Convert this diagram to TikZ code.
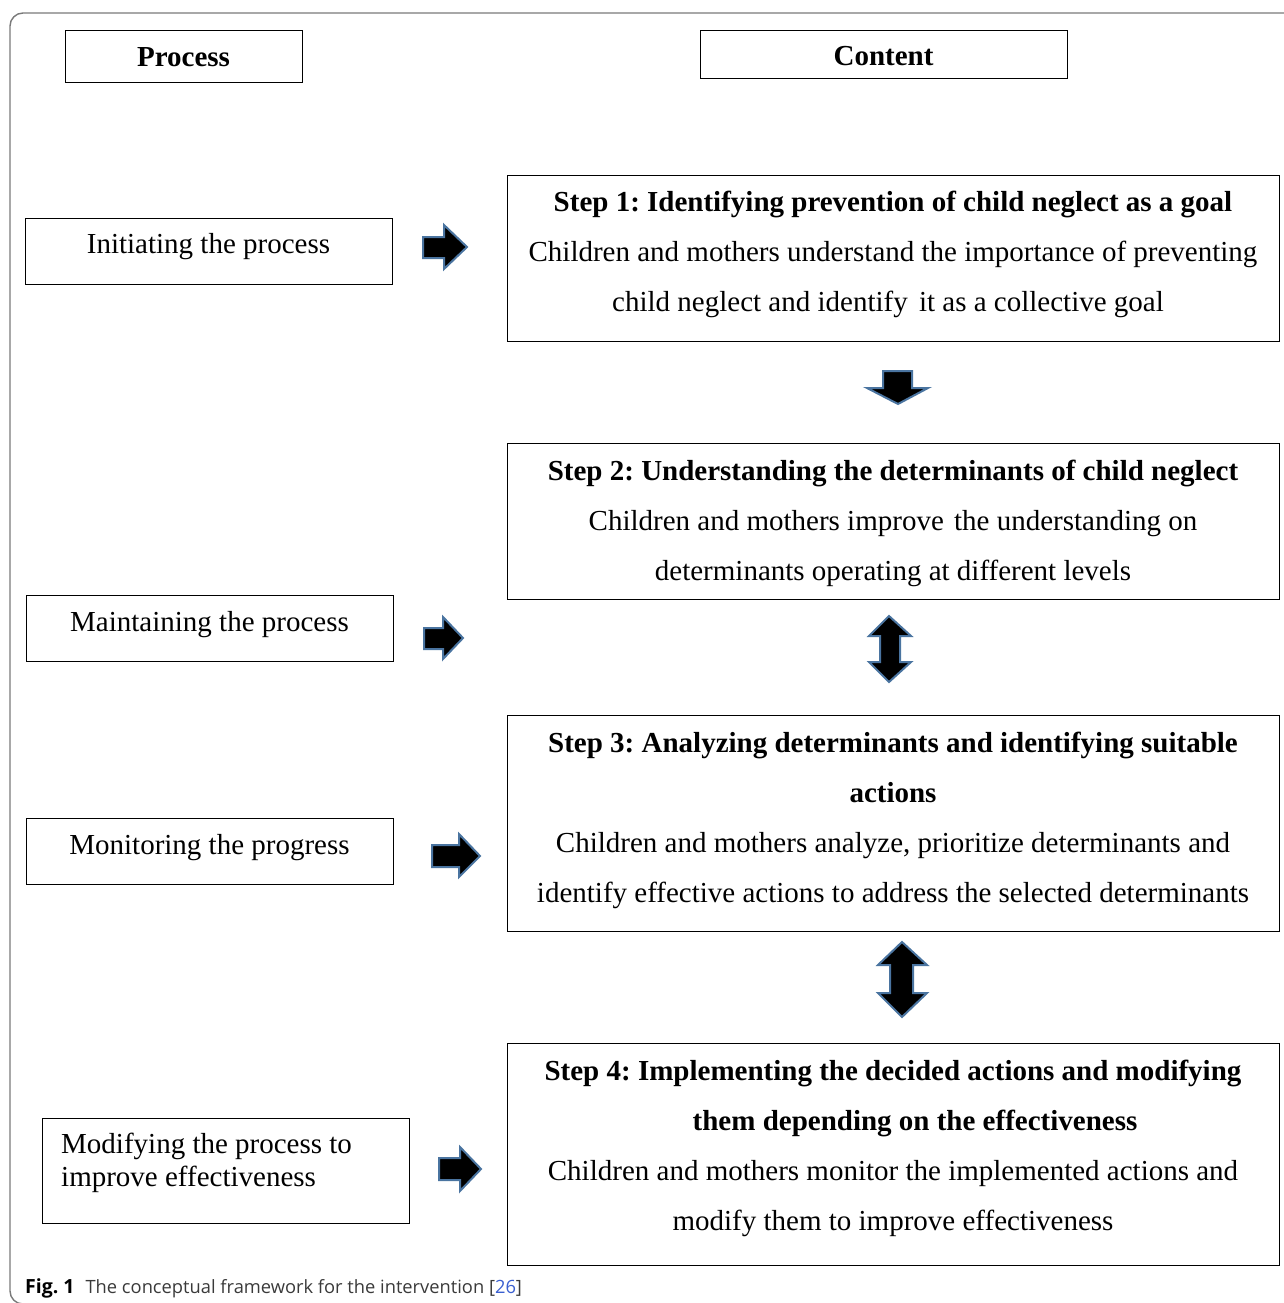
\documentclass[tikz,border=0pt]{standalone}
\usepackage{fontspec}
\setmainfont{Liberation Serif}
\newfontfamily\capfont{Open Sans}
\frenchspacing
\definecolor{arrowline}{HTML}{4A74A0}
\definecolor{framegray}{HTML}{7A7A7A}
\definecolor{captext}{HTML}{3A3A3A}
\definecolor{refblue}{HTML}{3A5FD0}
\tikzset{
  frameline/.style={draw=framegray, line width=1.4pt, rounded corners=13pt},
  boxshape/.style={draw=black, line width=0.9pt, inner sep=0pt, rectangle},
  hdrtext/.style={font=\fontsize{29}{34}\selectfont\bfseries, inner sep=0pt},
  ptext/.style={font=\fontsize{29}{33}\selectfont, inner sep=0pt},
  stext/.style={font=\fontsize{29}{50}\selectfont, align=center, inner sep=0pt},
  blockarrow/.style={fill=black, draw=arrowline, line width=2pt, line join=miter},
}
\begin{document}
\begin{tikzpicture}[x=1pt,y=-1pt]
\useasboundingbox (0,0) rectangle (1284,1303);
% outer frame
\draw[frameline] (1290,13) -- (10,13) -- (10,1304) -- (40,1304);
% headers
\node[boxshape, minimum width=237, minimum height=52] (hp) at (183.5,56) {};
\node[hdrtext] (hpt) at (183.5,57) {Process};
\node[boxshape, minimum width=367, minimum height=48] (hc) at (883.5,54) {};
\node[hdrtext] (hct) at (883.5,56) {Content};
% process boxes
\node[boxshape, minimum width=367, minimum height=66] (p1) at (208.5,251) {};
\node[ptext] (p1t) at (208.5,247) {Initiating the process};
\node[boxshape, minimum width=367, minimum height=66] (p2) at (209.5,628) {};
\node[ptext] (p2t) at (209.5,625) {Maintaining the process};
\node[boxshape, minimum width=367, minimum height=66] (p3) at (209.5,851) {};
\node[ptext] (p3t) at (209.5,848) {Monitoring the progress};
\node[boxshape, minimum width=367, minimum height=105] (p4) at (225.5,1170.5) {};
\node[ptext, align=left, anchor=north west] (p4t) at (61,1133) {Modifying the process to\\improve effectiveness};
% step boxes
\node[boxshape, minimum width=772, minimum height=166] (s1) at (893,258) {};
\node[stext] (s1t) at (893,254) {\textbf{Step 1: Identifying prevention of child neglect as a goal}\\Children and mothers understand the importance of preventing\\child neglect and identify\hspace{4pt} it as a collective goal\hspace*{10pt}};
\node[boxshape, minimum width=772, minimum height=156] (s2) at (893,521) {};
\node[stext] (s2t) at (893,523) {\textbf{Step 2: Understanding the determinants of child neglect}\\Children and mothers improve\hspace{3pt} the understanding on\hspace*{8pt}\\determinants operating at different levels};
\node[boxshape, minimum width=772, minimum height=216] (s3) at (893,823) {};
\node[stext] (s3t) at (893,820) {\textbf{Step 3: Analyzing determinants and identifying suitable}\\\textbf{actions}\\Children and mothers analyze, prioritize determinants and\\identify effective actions to address the selected determinants};
\node[boxshape, minimum width=772, minimum height=222] (s4) at (893,1154) {};
\node[stext] (s4t) at (893,1148) {\textbf{Step 4: Implementing the decided actions and modifying}\\\hspace*{44pt}\textbf{them depending on the effectiveness}\\Children and mothers monitor the implemented actions and\\modify them to improve effectiveness};
% right arrows
\draw[blockarrow] (423,237) -- (444,237) -- (444,225) -- (467,247) -- (444,269) -- (444,258) -- (423,258) -- cycle;
\draw[blockarrow] (424,628) -- (443,628) -- (443,617) -- (463,638) -- (443,659) -- (443,649) -- (424,649) -- cycle;
\draw[blockarrow] (432,845) -- (459,845) -- (459,834) -- (480,856) -- (459,877) -- (459,867) -- (432,867) -- cycle;
\draw[blockarrow] (439,1158) -- (460,1158) -- (460,1147) -- (481,1169) -- (460,1191) -- (460,1180) -- (439,1180) -- cycle;
% down arrow
\draw[blockarrow] (883,371) -- (912,371) -- (912,388) -- (928,388) -- (898,404) -- (867,388) -- (883,388) -- cycle;
% double arrows
\draw[blockarrow] (889,616) -- (911,636) -- (900,636) -- (900,662) -- (911,662) -- (889,682) -- (869,662) -- (880,662) -- (880,636) -- (869,636) -- cycle;
\draw[blockarrow] (902,942) -- (927,965) -- (913,965) -- (913,993) -- (927,993) -- (902,1017) -- (878,993) -- (890,993) -- (890,965) -- (878,965) -- cycle;
% caption
\node[anchor=base west, inner sep=0pt, font=\capfont\fontsize{18.3}{22}\selectfont, text=captext] (cap) at (25,1293) {{\fontsize{19.5}{22}\selectfont\textbf{\color{black}Fig. 1}}\hspace{11pt}The conceptual framework for the intervention [\textcolor{refblue}{26}]};
\end{tikzpicture}
\end{document}
